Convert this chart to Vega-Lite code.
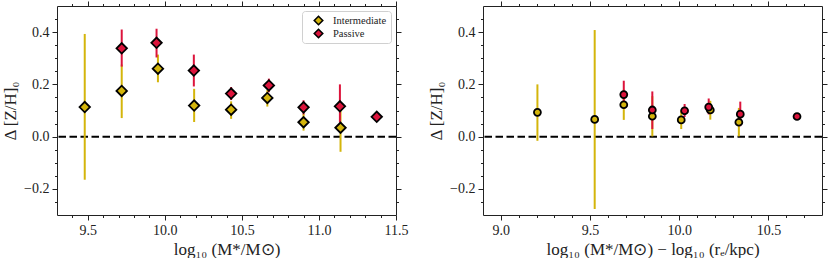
{
  "$schema": "https://vega.github.io/schema/vega-lite/v6.json",
  "padding": {"left": 1, "top": 0, "right": 0, "bottom": 0},
  "background": "white",
  "bounds": "flush",
  "spacing": 87,
  "datasets": {
    "left": [
      {"series": "Intermediate", "x": 9.48, "y": 0.113, "lo": -0.165, "hi": 0.393},
      {"series": "Intermediate", "x": 9.72, "y": 0.175, "lo": 0.071, "hi": 0.276},
      {"series": "Intermediate", "x": 9.955, "y": 0.26, "lo": 0.208, "hi": 0.314},
      {"series": "Intermediate", "x": 10.19, "y": 0.119, "lo": 0.056, "hi": 0.183},
      {"series": "Intermediate", "x": 10.43, "y": 0.103, "lo": 0.068, "hi": 0.135},
      {"series": "Intermediate", "x": 10.665, "y": 0.148, "lo": 0.115, "hi": 0.178},
      {"series": "Intermediate", "x": 10.9, "y": 0.055, "lo": 0.023, "hi": 0.087},
      {"series": "Intermediate", "x": 11.14, "y": 0.034, "lo": -0.058, "hi": 0.126},
      {"series": "Passive", "x": 9.72, "y": 0.338, "lo": 0.268, "hi": 0.41},
      {"series": "Passive", "x": 9.946, "y": 0.359, "lo": 0.303, "hi": 0.413},
      {"series": "Passive", "x": 10.188, "y": 0.253, "lo": 0.192, "hi": 0.314},
      {"series": "Passive", "x": 10.43, "y": 0.165, "lo": 0.14, "hi": 0.19},
      {"series": "Passive", "x": 10.675, "y": 0.196, "lo": 0.17, "hi": 0.222},
      {"series": "Passive", "x": 10.9, "y": 0.112, "lo": 0.085, "hi": 0.139},
      {"series": "Passive", "x": 11.136, "y": 0.116, "lo": 0.054, "hi": 0.2},
      {"series": "Passive", "x": 11.375, "y": 0.076, "lo": 0.076, "hi": 0.076}
    ],
    "right": [
      {"series": "Intermediate", "x": 9.205, "y": 0.093, "lo": -0.016, "hi": 0.2},
      {"series": "Intermediate", "x": 9.526, "y": 0.066, "lo": -0.277, "hi": 0.408},
      {"series": "Intermediate", "x": 9.689, "y": 0.122, "lo": 0.064, "hi": 0.18},
      {"series": "Intermediate", "x": 9.849, "y": 0.078, "lo": 0.001, "hi": 0.155},
      {"series": "Intermediate", "x": 10.011, "y": 0.064, "lo": 0.029, "hi": 0.1},
      {"series": "Intermediate", "x": 10.174, "y": 0.102, "lo": 0.065, "hi": 0.137},
      {"series": "Intermediate", "x": 10.334, "y": 0.055, "lo": 0.001, "hi": 0.11},
      {"series": "Passive", "x": 9.689, "y": 0.161, "lo": 0.11, "hi": 0.214},
      {"series": "Passive", "x": 9.849, "y": 0.102, "lo": 0.029, "hi": 0.173},
      {"series": "Passive", "x": 10.03, "y": 0.099, "lo": 0.075, "hi": 0.125},
      {"series": "Passive", "x": 10.165, "y": 0.113, "lo": 0.085, "hi": 0.146},
      {"series": "Passive", "x": 10.342, "y": 0.086, "lo": 0.04, "hi": 0.134},
      {"series": "Passive", "x": 10.66, "y": 0.077, "lo": 0.077, "hi": 0.077}
    ],
    "zero": [{"y0": 0}]
  },
  "resolve": {"legend": {"color": "independent"}},
  "hconcat": [
    {
      "width": 339,
      "height": 209,
      "resolve": {"axis": {"x": "independent", "y": "independent"}, "legend": {"color": "independent"}},
      "layer": [
        {
          "data": {"name": "zero"},
          "mark": {"type": "rule", "color": "black", "strokeWidth": 2, "strokeDash": [7.5, 3.5]},
          "encoding": {"y": {"field": "y0", "type": "quantitative", "axis": null, "scale": {"domain": [-0.3, 0.5], "nice": false, "zero": false}}}
        },
        {
          "data": {"name": "left"},
          "mark": {"type": "rule", "strokeWidth": 2},
          "encoding": {
            "x": {"field": "x", "type": "quantitative", "scale": {"domain": [9.3, 11.5], "nice": false, "zero": false},
              "axis": {"orient": "bottom", "values": [9.4, 9.5, 9.6, 9.7, 9.8, 9.9, 10.0, 10.1, 10.2, 10.3, 10.4, 10.5, 10.6, 10.7, 10.8, 10.9, 11.0, 11.1, 11.2, 11.3, 11.4, 11.5],
                "labelExpr": "abs(round(datum.value*2)-datum.value*2)<1e-6 ? format(datum.value,'.1f') : ''",
                "tickSize": {"condition": {"test": "abs(round(datum.value*2)-datum.value*2)<1e-6", "value": 5}, "value": 2.5},
                "title": "log₁₀ (M*/M⊙)"}},
            "y": {"field": "lo", "type": "quantitative", "scale": {"domain": [-0.3, 0.5], "nice": false, "zero": false},
              "axis": {"orient": "left", "values": [-0.25, -0.2, -0.15, -0.1, -0.05, 0, 0.05, 0.1, 0.15, 0.2, 0.25, 0.3, 0.35, 0.4, 0.45],
                "labelExpr": "abs(round(datum.value*5)-datum.value*5)<1e-6 ? format(datum.value,'.1f') : ''",
                "tickSize": {"condition": {"test": "abs(round(datum.value*5)-datum.value*5)<1e-6", "value": 5}, "value": 2.5},
                "title": "Δ [Z/H]₀"}},
            "y2": {"field": "hi"},
            "color": {"field": "series", "type": "nominal", "scale": {"domain": ["Intermediate", "Passive"], "range": ["#d4b50b", "#dc143c"]}, "legend": null}
          }
        },
        {
          "data": {"name": "left"},
          "mark": {"type": "point", "shape": "diamond", "filled": true, "size": 110, "stroke": "black", "strokeWidth": 1.8, "opacity": 1},
          "encoding": {
            "x": {"field": "x", "type": "quantitative",
              "axis": {"orient": "top", "values": [9.4, 9.5, 9.6, 9.7, 9.8, 9.9, 10.0, 10.1, 10.2, 10.3, 10.4, 10.5, 10.6, 10.7, 10.8, 10.9, 11.0, 11.1, 11.2, 11.3, 11.4, 11.5],
                "labels": false, "title": null,
                "tickSize": {"condition": {"test": "abs(round(datum.value*2)-datum.value*2)<1e-6", "value": 5}, "value": 2.5}}},
            "y": {"field": "y", "type": "quantitative",
              "axis": {"orient": "right", "values": [-0.25, -0.2, -0.15, -0.1, -0.05, 0, 0.05, 0.1, 0.15, 0.2, 0.25, 0.3, 0.35, 0.4, 0.45],
                "labels": false, "title": null,
                "tickSize": {"condition": {"test": "abs(round(datum.value*5)-datum.value*5)<1e-6", "value": 5}, "value": 2.5}}},
            "color": {"field": "series", "type": "nominal",
              "legend": {"orient": "top-right", "offset": 5, "title": null, "symbolType": "diamond", "symbolSize": 72, "symbolOffset": 7, "symbolStrokeColor": "black", "symbolStrokeWidth": 1.6, "labelFont": "Liberation Serif", "labelFontSize": 10.5, "labelColor": "#222", "labelOffset": 9, "strokeColor": "#d0d0d0", "fillColor": "white", "cornerRadius": 3, "padding": 4, "rowPadding": 2, "clipHeight": 11,
                "encode": {"symbols": {"update": {"stroke": {"value": "black"}, "strokeWidth": {"value": 1.6}, "opacity": {"value": 1}}}}}}
          }
        }
      ]
    },
    {
      "width": 339,
      "height": 209,
      "resolve": {"axis": {"x": "independent", "y": "independent"}},
      "layer": [
        {
          "data": {"name": "zero"},
          "mark": {"type": "rule", "color": "black", "strokeWidth": 2, "strokeDash": [7.5, 3.5]},
          "encoding": {"y": {"field": "y0", "type": "quantitative", "axis": null, "scale": {"domain": [-0.3, 0.5], "nice": false, "zero": false}}}
        },
        {
          "data": {"name": "right"},
          "mark": {"type": "rule", "strokeWidth": 2},
          "encoding": {
            "x": {"field": "x", "type": "quantitative", "scale": {"domain": [8.9, 10.8], "nice": false, "zero": false},
              "axis": {"orient": "bottom", "values": [9.0, 9.1, 9.2, 9.3, 9.4, 9.5, 9.6, 9.7, 9.8, 9.9, 10.0, 10.1, 10.2, 10.3, 10.4, 10.5, 10.6, 10.7],
                "labelExpr": "abs(round(datum.value*2)-datum.value*2)<1e-6 ? format(datum.value,'.1f') : ''",
                "tickSize": {"condition": {"test": "abs(round(datum.value*2)-datum.value*2)<1e-6", "value": 5}, "value": 2.5},
                "title": "log₁₀ (M*/M⊙) − log₁₀ (rₑ/kpc)"}},
            "y": {"field": "lo", "type": "quantitative", "scale": {"domain": [-0.3, 0.5], "nice": false, "zero": false},
              "axis": {"orient": "left", "values": [-0.25, -0.2, -0.15, -0.1, -0.05, 0, 0.05, 0.1, 0.15, 0.2, 0.25, 0.3, 0.35, 0.4, 0.45],
                "labelExpr": "abs(round(datum.value*5)-datum.value*5)<1e-6 ? format(datum.value,'.1f') : ''",
                "tickSize": {"condition": {"test": "abs(round(datum.value*5)-datum.value*5)<1e-6", "value": 5}, "value": 2.5},
                "title": "Δ [Z/H]₀"}},
            "y2": {"field": "hi"},
            "color": {"field": "series", "type": "nominal", "legend": null}
          }
        },
        {
          "data": {"name": "right"},
          "mark": {"type": "point", "shape": "circle", "filled": true, "size": 48, "stroke": "black", "strokeWidth": 1.8, "opacity": 1},
          "encoding": {
            "x": {"field": "x", "type": "quantitative",
              "axis": {"orient": "top", "values": [9.0, 9.1, 9.2, 9.3, 9.4, 9.5, 9.6, 9.7, 9.8, 9.9, 10.0, 10.1, 10.2, 10.3, 10.4, 10.5, 10.6, 10.7],
                "labels": false, "title": null,
                "tickSize": {"condition": {"test": "abs(round(datum.value*2)-datum.value*2)<1e-6", "value": 5}, "value": 2.5}}},
            "y": {"field": "y", "type": "quantitative",
              "axis": {"orient": "right", "values": [-0.25, -0.2, -0.15, -0.1, -0.05, 0, 0.05, 0.1, 0.15, 0.2, 0.25, 0.3, 0.35, 0.4, 0.45],
                "labels": false, "title": null,
                "tickSize": {"condition": {"test": "abs(round(datum.value*5)-datum.value*5)<1e-6", "value": 5}, "value": 2.5}}},
            "color": {"field": "series", "type": "nominal", "legend": null}
          }
        }
      ]
    }
  ],
  "config": {
    "view": {"stroke": "#222", "strokeWidth": 1},
    "axis": {"grid": false, "domain": false, "tickColor": "#222", "tickWidth": 1, "labelFont": "Liberation Serif", "labelFontSize": 14, "labelColor": "#222", "labelPadding": 3, "labelFlush": false, "labelOverlap": false, "titleFont": "Liberation Serif", "titleFontSize": 17, "titleFontWeight": "normal", "titleColor": "#222", "titlePadding": 4}
  }
}
